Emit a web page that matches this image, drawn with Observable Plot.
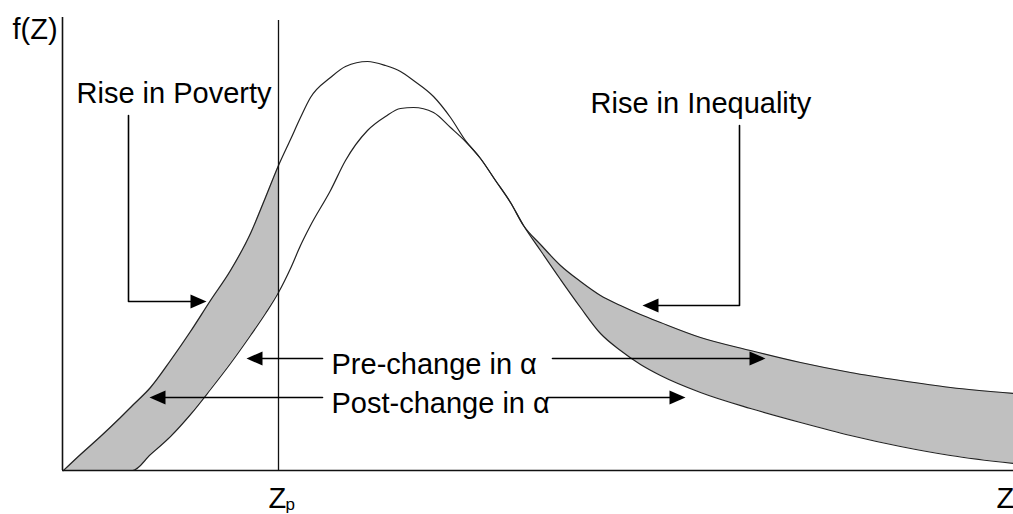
<!DOCTYPE html>
<html>
<head>
<meta charset="utf-8">
<script src="https://cdn.jsdelivr.net/npm/d3@7"></script>
<script src="https://cdn.jsdelivr.net/npm/@observablehq/plot@0.6"></script>
<style>
  html, body { margin: 0; padding: 0; background: #fff; }
  #chart svg { display: block; overflow: visible; }
</style>
</head>
<body>
<div id="chart"></div>
<script>
// Income Z (arbitrary units) and density f(Z)
const zGrid = [1, 18, 38, 58, 70, 88, 108, 128, 148, 168, 188, 203, 216, 228, 238, 248, 268, 283, 305, 323, 338, 351, 371, 388, 403, 418, 433, 448, 461, 478, 498, 518, 538, 558, 578, 598, 638, 688, 738, 788, 838, 888, 951];
const postChange = [0, 16, 34, 53, 65, 83, 110, 139, 170, 200, 237, 273, 305, 331, 353, 373, 393, 404, 409, 405, 399, 390, 374, 353, 330, 312, 290, 268, 245, 220, 191, 163, 137, 120, 106, 95, 78, 62, 48, 35, 24, 15, 7];
const preChange = [0, 0, 0, 0, 0, 16, 34, 56, 81, 107, 135, 157, 178, 202, 225, 245, 280, 310, 340, 354, 362, 363, 358, 343, 329, 312, 290, 268, 245, 226, 205, 189, 175, 165, 156, 148, 133, 120, 108, 98, 90, 83, 77];

// Reference values
const zDomain = [0, 951];
const fDomain = [0, 470];
const povertyLine = 216;      // Z_p
const povertyLineTop = 450;
const fAxisTop = 453;
const crossingZ = 461;        // where the curves cross on the right

// Annotation texts and anchors (data units)
const labelTexts = ["f(Z)", "Rise in Poverty", "Rise in Inequality", "Pre-change in \u03b1", "Post-change in \u03b1", "Z", "Z"];
const labelZ = [-50, 14, 528, 269, 269, 206, 934];
const labelF = [432, 368, 358, 97, 58, -37, -37];
const subText = ["p"];
const subZ = [223];
const subF = [-39];

// Leader lines (id, z, f) and arrowheads (z, f, direction in degrees)
const leaderId = ["pov", "pov", "pov", "ineq", "ineq", "ineq", "preL", "preL", "preR", "preR", "postL", "postL", "postR", "postR"];
const leaderZ = [66, 66, 140, 677, 677, 584, 260, 188, 490, 699, 260, 91, 485, 619];
const leaderF = [355, 169, 169, 345, 165, 165, 112, 112, 112, 112, 73, 73, 73, 73];
const headZ = [144, 580, 184, 703, 87, 623];
const headF = [169, 165, 112, 112, 73, 73];
const headDir = [0, 180, 180, 0, 180, 0];

const rows = zGrid.map((z, i) => ({z, post: postChange[i], pre: preChange[i]}));
const leftBand = rows.filter(d => d.z <= povertyLine);
const rightBand = rows.filter(d => d.z >= crossingZ);
const labels = labelTexts.map((t, i) => ({t, z: labelZ[i], f: labelF[i]}));
const subs = subText.map((t, i) => ({t, z: subZ[i], f: subF[i]}));
const leaders = leaderId.map((id, i) => ({id, z: leaderZ[i], f: leaderF[i]}));
const heads = headZ.map((z, i) => ({z, f: headF[i], dir: headDir[i]}));

// Filled triangular arrowhead with its tip at the anchor, pointing right
const arrowHead = {
  draw(ctx) {
    ctx.moveTo(0, 0);
    ctx.lineTo(-16, -7);
    ctx.lineTo(-16, 7);
    ctx.closePath();
  }
};

const chart = Plot.plot({
  width: 1013,
  height: 514,
  marginLeft: 62,
  marginRight: 0,
  marginTop: 0,
  marginBottom: 44,
  x: {domain: zDomain, axis: null},
  y: {domain: fDomain, axis: null},
  style: {fontFamily: "'Liberation Sans', Arial, sans-serif", background: "#fff", color: "#000"},
  marks: [
    Plot.areaY(leftBand, {x: "z", y1: "pre", y2: "post", curve: "monotone-x", fill: "#c0c0c0"}),
    Plot.areaY(rightBand, {x: "z", y1: "pre", y2: "post", curve: "monotone-x", fill: "#c0c0c0"}),
    Plot.line(rows, {x: "z", y: "post", curve: "monotone-x", stroke: "#222", strokeWidth: 1.2}),
    Plot.line(rows, {x: "z", y: "pre", curve: "monotone-x", stroke: "#222", strokeWidth: 1.2}),
    Plot.ruleX([0], {y1: 0, y2: fAxisTop, stroke: "#111", strokeWidth: 1.6}),
    Plot.ruleY([0], {x1: 0, x2: zDomain[1], stroke: "#111", strokeWidth: 1.6}),
    Plot.ruleX([povertyLine], {y1: 0, y2: povertyLineTop, stroke: "#111", strokeWidth: 1.3}),
    Plot.line(leaders, {x: "z", y: "f", z: "id", stroke: "#000", strokeWidth: 1.6}),
    Plot.dot(heads, {x: "z", y: "f", rotate: "dir", symbol: arrowHead, fill: "#000", stroke: "none"}),
    Plot.text(labels, {x: "z", y: "f", text: "t", textAnchor: "start", lineAnchor: "bottom", fontSize: 29, fill: "#000"}),
    Plot.text(subs, {x: "z", y: "f", text: "t", textAnchor: "start", lineAnchor: "bottom", fontSize: 17, fill: "#000"})
  ]
});
document.getElementById("chart").append(chart);
</script>
</body>
</html>
